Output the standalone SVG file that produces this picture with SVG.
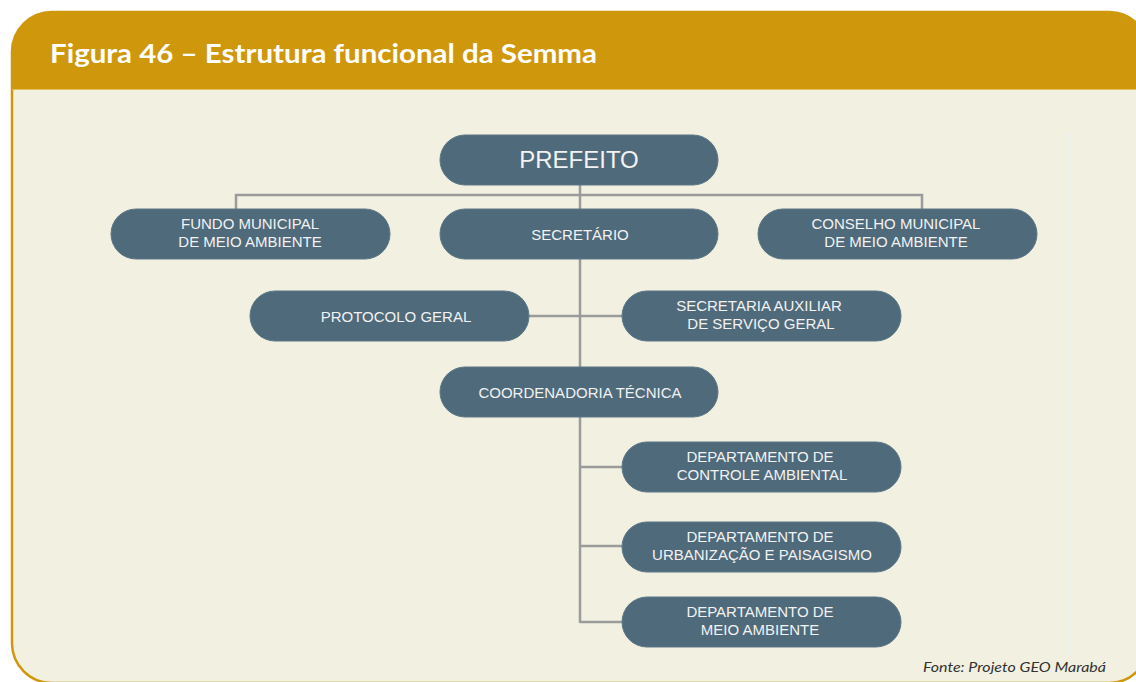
<svg xmlns="http://www.w3.org/2000/svg" width="1136" height="682" viewBox="0 0 1136 682">
<style>
.node rect{fill:#4f6a7a;stroke:#5d7787;stroke-width:1}
.node text{fill:#f2f2f2;font-family:"Liberation Sans",Arial,sans-serif;font-size:15px;text-anchor:middle}
.conn path{fill:none;stroke:#9b9b9b;stroke-width:2.5}
</style>
<rect width="1136" height="682" fill="#ffffff"/>
<rect x="12" y="12" width="1137" height="671" rx="40" ry="40" fill="#f2f0e0" stroke="#cf970b" stroke-width="2.5"/>
<path d="M12,89 V52 A40,40 0 0 1 52,12 H1109 A40,40 0 0 1 1149,52 V89 Z" fill="#cf970b"/>
<line x1="12" y1="89.5" x2="1136" y2="89.5" stroke="#e2c062" stroke-width="1"/>
<text x="50" y="63" font-family="Lato,'Open Sans',sans-serif" font-weight="bold" font-size="27" fill="#ffffff" textLength="547" lengthAdjust="spacingAndGlyphs">Figura 46 – Estrutura funcional da Semma</text>
<line x1="1068" y1="133" x2="1068" y2="656" stroke="#e9f1f2" stroke-width="2"/>
<g class="conn">
<path d="M580,185 V623"/>
<path d="M236,209 V195 H922 V209"/>
<path d="M529,316 H622"/>
<path d="M580,467 H622"/>
<path d="M580,546 H622"/>
<path d="M580,622 H622"/>
</g>
<g id="prefeito" class="node"><rect x="440" y="135" width="278" height="50" rx="25"/><text x="579" y="168" style="font-size:24px">PREFEITO</text></g>
<g id="fundo" class="node"><rect x="111" y="209" width="279" height="50" rx="25"/><text x="250" y="229">FUNDO MUNICIPAL</text><text x="250" y="247">DE MEIO AMBIENTE</text></g>
<g id="secretario" class="node"><rect x="440" y="209" width="278" height="50" rx="25"/><text x="580" y="240">SECRETÁRIO</text></g>
<g id="conselho" class="node"><rect x="758" y="209" width="279" height="50" rx="25"/><text x="896" y="229">CONSELHO MUNICIPAL</text><text x="896" y="247">DE MEIO AMBIENTE</text></g>
<g id="protocolo" class="node"><rect x="250" y="291" width="279" height="50" rx="25"/><text x="396" y="322">PROTOCOLO GERAL</text></g>
<g id="secretaria-auxiliar" class="node"><rect x="622" y="291" width="279" height="50" rx="25"/><text x="759" y="311">SECRETARIA AUXILIAR</text><text x="761" y="329">DE SERVIÇO GERAL</text></g>
<g id="coordenadoria" class="node"><rect x="440" y="367" width="278" height="50" rx="25"/><text x="580" y="398">COORDENADORIA TÉCNICA</text></g>
<g id="dep-controle" class="node"><rect x="622" y="442" width="279" height="50" rx="25"/><text x="760" y="462">DEPARTAMENTO DE</text><text x="762" y="480">CONTROLE AMBIENTAL</text></g>
<g id="dep-urbanizacao" class="node"><rect x="622" y="522" width="279" height="50" rx="25"/><text x="760" y="542">DEPARTAMENTO DE</text><text x="762" y="560">URBANIZAÇÃO E PAISAGISMO</text></g>
<g id="dep-meio" class="node"><rect x="622" y="597" width="279" height="50" rx="25"/><text x="760" y="617">DEPARTAMENTO DE</text><text x="760" y="635">MEIO AMBIENTE</text></g>
<text x="923" y="672" font-family="Lato,'Open Sans',sans-serif" font-style="italic" font-size="14" fill="#333333" textLength="183" lengthAdjust="spacingAndGlyphs">Fonte: Projeto GEO Marabá</text>
</svg>
